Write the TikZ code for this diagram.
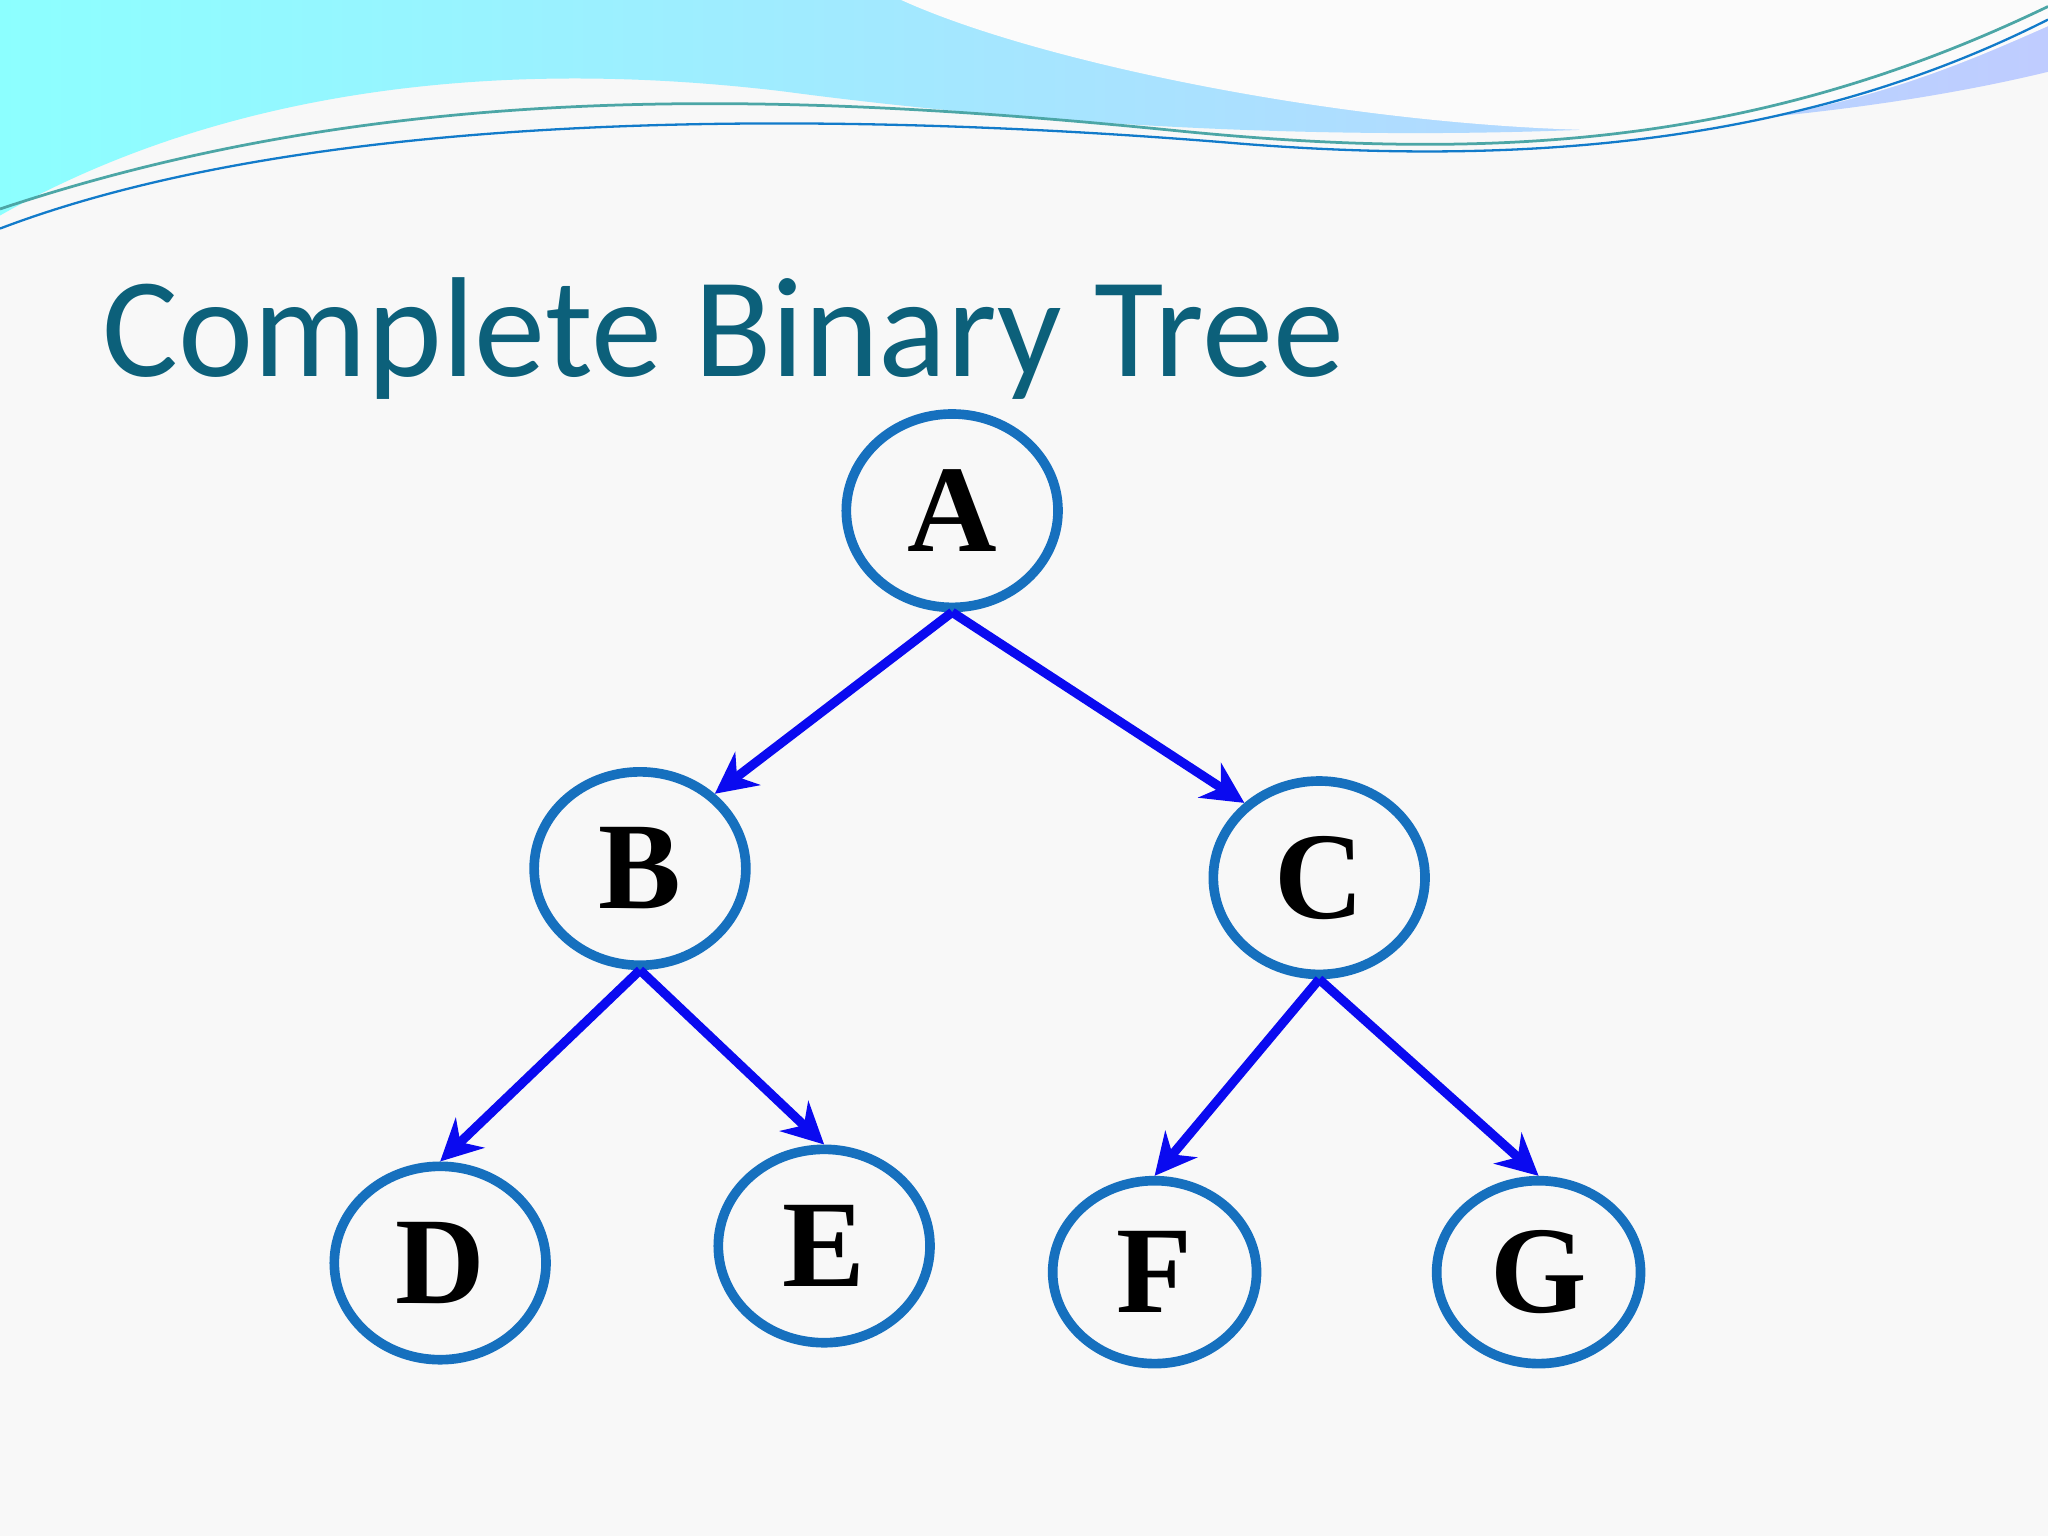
\documentclass[tikz,border=0pt]{standalone}
\usepackage{fontspec}
\setmainfont{Liberation Serif}
\newfontfamily\titlefont{Carlito}
\usetikzlibrary{positioning,arrows.meta,shapes.geometric}
\definecolor{titleteal}{RGB}{12,96,122}
\definecolor{ringblue}{RGB}{22,112,190}
\definecolor{edgeblue}{RGB}{10,10,240}
\definecolor{bgwhite}{RGB}{248,248,248}
\begin{document}
\begin{tikzpicture}[x=0.01cm,y=-0.01cm,
		TNode/.style={draw=ringblue,line width=2.1pt,ellipse,minimum width=1.62cm,minimum height=1.48cm,font=\fontsize{27pt}{27pt}\selectfont\bfseries},
		TEdge/.style={draw=edgeblue,line width=2pt,-{Stealth[length=9pt,width=9pt]}}
	]
	
	%background
	\fill[bgwhite] (0,0) rectangle (1568,1176);
	\useasboundingbox (0,0) rectangle (1568,1176);
	\shade[left color=cyan!45,right color=cyan!20!blue!25] (0,0) -- (1568,0) -- (1568,55) .. controls (1300,120) and (900,110) .. (600,70) .. controls (350,40) and (150,80) .. (0,165) -- cycle;
	\fill[bgwhite!60!white] (690,0) .. controls (800,50) and (1050,100) .. (1250,100) .. controls (1400,95) and (1500,50) .. (1568,20) -- (1568,0) -- cycle;
	\draw[teal!70,line width=0.6pt] (0,160) .. controls (300,60) and (600,70) .. (900,100) .. controls (1150,125) and (1350,110) .. (1568,5);
	\draw[cyan!60!blue,line width=0.5pt] (0,175) .. controls (250,80) and (650,85) .. (950,110) .. controls (1200,130) and (1400,100) .. (1568,15);
	
	%title
	\node(title) [anchor=base west,inner sep=0pt,text=titleteal,font=\titlefont\fontsize{31pt}{31pt}\selectfont] at (78,288) {Complete Binary Tree};
	
	%tree
	\node(A) [TNode] at (729,391) {A};
	\node(B) [TNode] at (490,665) {B};
	\node(C) [TNode] at (1010,672) {C};
	\node(D) [TNode] at (337,967) {D};
	\node(E) [TNode] at (631,954) {E};
	\node(F) [TNode,minimum width=1.56cm,minimum height=1.4cm] at (884,974) {F};
	\node(G) [TNode,minimum width=1.56cm,minimum height=1.4cm] at (1178,974) {G};
	
	\draw [TEdge] (A.south) -- (B.45);
	\draw [TEdge] (A.south) -- (C.135);
	\draw [TEdge] (B.south) -- (D.north);
	\draw [TEdge] (B.south) -- (E.north);
	\draw [TEdge] (C.south) -- (F.north);
	\draw [TEdge] (C.south) -- (G.north);
	
\end{tikzpicture}
\end{document}
